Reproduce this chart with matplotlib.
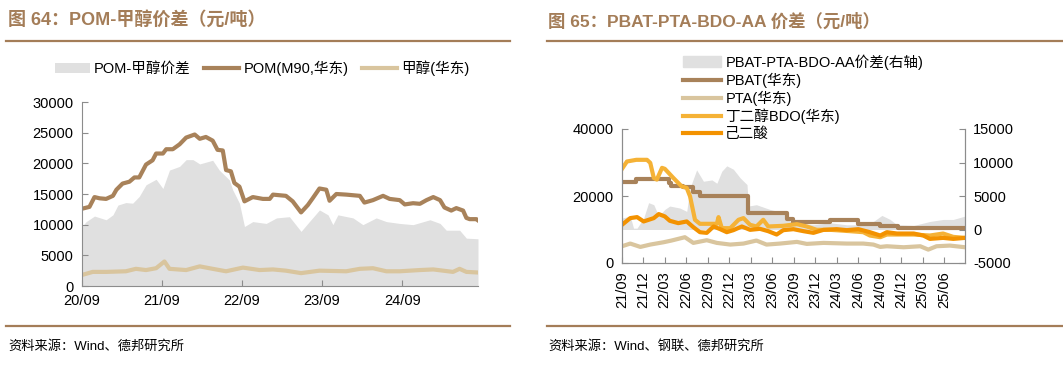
import pandas as pd
import matplotlib
matplotlib.use("Agg")
import matplotlib.pyplot as plt
import matplotlib.dates as mdates
from matplotlib.lines import Line2D

plt.rcParams['font.family'] = ['Liberation Sans', 'Noto Sans CJK SC', 'DejaVu Sans']
plt.rcParams['axes.unicode_minus'] = False

# 图64 data (元/吨, values in thousands)
pom_dates = ["2020-09-01", "2020-10-05", "2020-10-28", "2020-11-20", "2020-12-20", "2021-01-20",
             "2021-02-05", "2021-03-05", "2021-04-05", "2021-04-28", "2021-05-20", "2021-06-20",
             "2021-07-20", "2021-08-05", "2021-09-05", "2021-09-20", "2021-10-20", "2021-11-20",
             "2021-12-20", "2022-01-28", "2022-02-20", "2022-03-20", "2022-04-20", "2022-05-12",
             "2022-06-05", "2022-06-20", "2022-07-12", "2022-07-28", "2022-08-20", "2022-09-12",
             "2022-10-20", "2022-12-05", "2023-01-05", "2023-01-20", "2023-03-20", "2023-04-20",
             "2023-05-28", "2023-06-28", "2023-07-20", "2023-08-20", "2023-09-20", "2023-10-05",
             "2023-11-05", "2023-12-20", "2024-02-20", "2024-03-12", "2024-04-20", "2024-06-05",
             "2024-07-05", "2024-08-20", "2024-09-12", "2024-10-20", "2024-11-20", "2024-12-20",
             "2025-01-20", "2025-02-20", "2025-03-12", "2025-04-12", "2025-05-05", "2025-06-05",
             "2025-06-20", "2025-07-05", "2025-08-05", "2025-08-12"]
pom_vals = [12.6, 12.9, 14.5, 14.3, 14.2, 14.7, 15.7, 16.7, 17.0, 17.7, 17.7, 19.8,
            20.5, 21.6, 21.6, 22.3, 22.3, 23.1, 24.2, 24.7, 24.0, 24.3, 23.7, 22.2,
            22.1, 18.9, 18.7, 16.8, 16.2, 13.8, 14.5, 14.2, 14.2, 14.9, 14.7, 13.8,
            12.0, 13.2, 14.3, 15.9, 15.7, 13.9, 15.0, 14.9, 14.7, 13.6, 14.0, 14.7,
            14.2, 14.0, 13.3, 13.5, 13.4, 14.0, 14.5, 14.0, 12.8, 12.3, 12.7, 12.3,
            11.1, 10.9, 10.9, 10.7]

spread_dates = ["2020-09-01", "2020-09-20", "2020-10-28", "2020-12-20", "2021-01-20", "2021-02-12",
                "2021-03-20", "2021-04-20", "2021-05-20", "2021-06-20", "2021-08-05", "2021-09-05",
                "2021-10-05", "2021-11-20", "2021-12-20", "2022-01-20", "2022-02-20", "2022-04-20",
                "2022-05-20", "2022-07-05", "2022-07-20", "2022-08-20", "2022-09-12", "2022-10-20",
                "2022-12-20", "2023-02-05", "2023-04-05", "2023-05-28", "2023-07-05", "2023-08-20",
                "2023-09-28", "2023-10-20", "2023-11-12", "2024-01-20", "2024-03-05", "2024-05-05",
                "2024-06-20", "2024-08-20", "2024-10-20", "2025-01-05", "2025-02-20", "2025-03-20",
                "2025-05-20", "2025-06-20", "2025-08-12"]
spread_vals = [9.7, 10.5, 11.4, 10.8, 11.6, 13.2, 13.6, 13.5, 14.6, 16.5, 17.4, 15.9,
               18.9, 19.5, 20.6, 20.6, 19.9, 20.5, 18.9, 17.3, 15.7, 13.5, 9.7, 10.5,
               10.2, 11.1, 11.3, 8.9, 10.5, 12.4, 11.6, 10.0, 11.6, 11.1, 10.0, 11.1,
               10.5, 10.2, 10.0, 10.8, 10.2, 9.1, 9.1, 7.8, 7.7]

meoh_dates = ["2020-09-01", "2020-10-20", "2020-12-20", "2021-03-20", "2021-05-05", "2021-06-20",
              "2021-08-05", "2021-09-12", "2021-10-05", "2021-12-20", "2022-02-20", "2022-04-20",
              "2022-06-20", "2022-09-05", "2022-11-20", "2023-01-20", "2023-03-20", "2023-05-28",
              "2023-08-20", "2023-12-20", "2024-02-20", "2024-04-20", "2024-06-20", "2024-08-20",
              "2024-11-20", "2025-01-20", "2025-04-20", "2025-05-20", "2025-06-20", "2025-08-12"]
meoh_vals = [1.8, 2.3, 2.3, 2.4, 2.8, 2.6, 2.9, 4.0, 2.8, 2.6, 3.2, 2.8,
             2.4, 3.0, 2.6, 2.7, 2.5, 2.1, 2.5, 2.4, 2.8, 2.9, 2.4, 2.4,
             2.6, 2.7, 2.3, 2.8, 2.3, 2.2]

# 图65 data
pbat_dates = ["2021-09-01", "2021-11-01", "2022-03-20", "2022-03-30", "2022-05-19", "2022-07-01",
              "2022-07-29", "2023-02-20", "2023-08-01", "2023-08-30", "2024-02-03", "2024-06-01",
              "2024-09-01", "2024-11-15", "2025-08-28"]
pbat_vals = [24.1, 25.1, 24.0, 23.1, 22.6, 21.1, 20.1, 14.9, 13.1, 12.2, 12.8, 11.5,
             11.0, 10.4, 10.4]

pta_dates = ["2021-09-01", "2021-10-06", "2021-11-18", "2021-12-30", "2022-02-25", "2022-03-30",
             "2022-05-26", "2022-07-01", "2022-08-27", "2022-10-09", "2022-12-05", "2023-01-30",
             "2023-03-26", "2023-05-08", "2023-07-04", "2023-09-14", "2023-10-26", "2024-01-05",
             "2024-04-13", "2024-06-22", "2024-08-04", "2024-09-02", "2024-09-30", "2024-12-10",
             "2025-02-19", "2025-03-25", "2025-04-29", "2025-06-25", "2025-08-28"]
pta_vals = [5.0, 5.8, 4.8, 5.5, 6.2, 6.7, 7.7, 6.0, 6.8, 6.0, 5.5, 5.8,
            6.7, 5.5, 5.8, 6.3, 5.7, 6.0, 5.8, 5.8, 5.5, 4.8, 5.0, 4.7,
            5.0, 4.0, 5.0, 5.2, 4.7]

bdo_dates = ["2021-09-01", "2021-09-22", "2021-11-01", "2021-12-16", "2021-12-30", "2022-01-14",
             "2022-01-27", "2022-02-18", "2022-03-02", "2022-04-07", "2022-05-12", "2022-06-03",
             "2022-06-17", "2022-07-08", "2022-07-29", "2022-10-09", "2022-10-16", "2022-10-30",
             "2022-12-05", "2023-01-09", "2023-01-30", "2023-02-27", "2023-03-26", "2023-04-24",
             "2023-05-15", "2023-07-18", "2023-09-14", "2023-10-26", "2023-12-07", "2024-02-03",
             "2024-04-27", "2024-06-22", "2024-07-20", "2024-09-02", "2024-09-30", "2024-11-12",
             "2025-01-22", "2025-04-01", "2025-05-27", "2025-07-09", "2025-08-28"]
bdo_vals = [28.1, 30.3, 30.8, 30.8, 29.9, 25.4, 24.9, 28.4, 28.1, 25.4, 22.9, 22.4,
            19.9, 12.9, 11.7, 11.7, 13.7, 10.4, 10.4, 12.9, 13.4, 11.4, 10.9, 12.9,
            10.9, 11.1, 11.6, 10.9, 9.9, 9.9, 9.5, 9.2, 8.2, 7.7, 8.5, 8.5,
            8.5, 8.2, 8.8, 7.8, 7.5]

aa_dates = ["2021-09-01", "2021-10-06", "2021-11-04", "2021-12-02", "2022-01-14", "2022-02-04",
            "2022-03-02", "2022-03-23", "2022-04-28", "2022-06-03", "2022-07-01", "2022-07-29",
            "2022-08-27", "2022-09-25", "2022-10-23", "2022-11-20", "2022-12-18", "2023-01-23",
            "2023-02-27", "2023-04-10", "2023-05-15", "2023-06-20", "2023-07-18", "2023-08-30",
            "2023-10-12", "2023-11-23", "2024-01-05", "2024-03-01", "2024-04-13", "2024-06-01",
            "2024-07-20", "2024-09-02", "2024-09-30", "2024-11-12", "2025-01-22", "2025-03-04",
            "2025-04-01", "2025-05-27", "2025-07-09", "2025-08-28"]
aa_vals = [11.4, 13.4, 13.7, 12.4, 13.4, 14.6, 13.9, 12.6, 11.9, 12.4, 10.7, 9.2,
           9.0, 10.9, 10.1, 9.2, 9.8, 10.9, 9.9, 10.2, 9.5, 8.5, 9.8, 10.1,
           9.5, 9.0, 9.9, 10.1, 9.8, 10.1, 9.2, 8.2, 9.2, 8.8, 8.8, 8.2,
           7.2, 7.5, 7.2, 7.5]

pspread_dates = ["2021-09-01", "2021-10-06", "2021-10-20", "2021-11-04", "2021-12-02", "2021-12-23",
                 "2022-01-14", "2022-02-04", "2022-03-02", "2022-03-23", "2022-05-05", "2022-06-03",
                 "2022-06-17", "2022-07-15", "2022-08-13", "2022-09-18", "2022-10-09", "2022-10-30",
                 "2022-11-20", "2022-12-18", "2023-01-16", "2023-02-14", "2023-02-20", "2023-03-26",
                 "2023-05-22", "2023-07-18", "2023-08-16", "2023-09-14", "2023-11-23", "2024-02-03",
                 "2024-04-13", "2024-06-22", "2024-08-04", "2024-09-09", "2024-10-14", "2024-11-12",
                 "2025-01-22", "2025-04-01", "2025-05-27", "2025-07-09", "2025-08-28"]
pspread_vals = [1.7, 2.0, 0.2, 0.2, 1.7, 4.0, 3.7, 2.0, 3.0, 3.5, 3.2, 2.7,
                6.2, 8.9, 7.2, 7.4, 6.9, 8.7, 9.5, 9.0, 7.7, 6.7, 3.5, 3.7,
                3.0, 2.5, 1.2, 1.0, 0.7, 1.0, 0.7, 0.7, 1.2, 2.1, 1.5, 0.7,
                0.6, 1.2, 1.5, 1.5, 2.0]

brown = "#A8825A"
tan = "#D9C59E"
grey = "#E0E0E0"
bdo_c = "#F5B236"
aa_c = "#F39200"
title_c = "#A47D58"
spine_c = "#8C8C8C"

def d(x):
    return pd.to_datetime(x)

def k(v):
    return [x * 1000 for x in v]

fig = plt.figure(figsize=(10.63, 3.67), dpi=100)

# ---- 图64 ----
ax1 = fig.add_axes([82 / 1063, 81 / 367, 396 / 1063, 184 / 367])
ax1.fill_between(d(spread_dates), k(spread_vals), 0, color=grey, lw=0, label="POM-甲醇价差")
ax1.plot(d(pom_dates), k(pom_vals), color=brown, lw=3, label="POM(M90,华东)")
ax1.plot(d(meoh_dates), k(meoh_vals), color=tan, lw=3, label="甲醇(华东)")
ax1.set_ylim(0, 30000)
ax1.set_yticks(range(0, 30001, 5000))
ax1.set_xlim(d("2020-09-01"), d("2025-08-12"))
ax1.xaxis.set_major_locator(mdates.MonthLocator(bymonth=[9]))
ax1.xaxis.set_major_formatter(mdates.DateFormatter("%y/%m"))
for s in ["top", "right"]:
    ax1.spines[s].set_visible(False)
for s in ["left", "bottom"]:
    ax1.spines[s].set_color(spine_c)
ax1.tick_params(direction="in", length=4, color=spine_c, labelsize=10.5, pad=6)
ax1.legend(loc="center", bbox_to_anchor=(262 / 1063, 1 - 68 / 367), bbox_transform=fig.transFigure,
           ncol=3, frameon=False, fontsize=10.5, handlelength=2.4, handletextpad=0.3, columnspacing=0.9)

# ---- 图65 ----
ax2 = fig.add_axes([622 / 1063, 104 / 367, 343 / 1063, 134 / 367])
ax3 = ax2.twinx()
ax2.set_zorder(ax3.get_zorder() + 1)
ax2.patch.set_visible(False)
ax3.fill_between(d(pspread_dates), k(pspread_vals), 0, color=grey, lw=0)
ax2.plot(d(pbat_dates), k(pbat_vals), color=brown, lw=3, drawstyle="steps-post")
ax2.plot(d(pta_dates), k(pta_vals), color=tan, lw=3)
ax2.plot(d(bdo_dates), k(bdo_vals), color=bdo_c, lw=3)
ax2.plot(d(aa_dates), k(aa_vals), color=aa_c, lw=3)
ax2.set_ylim(0, 40000)
ax2.set_yticks([0, 20000, 40000])
ax3.set_ylim(-5000, 15000)
ax3.set_yticks([-5000, 0, 5000, 10000, 15000])
ax2.set_xlim(d("2021-09-01"), d("2025-08-28"))
ax2.xaxis.set_major_locator(mdates.MonthLocator(bymonth=[3, 6, 9, 12]))
ax2.xaxis.set_major_formatter(mdates.DateFormatter("%y/%m"))
for a in (ax2, ax3):
    a.spines["top"].set_visible(False)
    for s in ["left", "right", "bottom"]:
        a.spines[s].set_color(spine_c)
    a.tick_params(direction="in", length=4, color=spine_c, labelsize=10.5, pad=6)
ax2.tick_params(axis="x", labelrotation=90)

handles = [plt.Rectangle((0, 0), 1, 1, color=grey),
           Line2D([], [], color=brown, lw=3),
           Line2D([], [], color=tan, lw=3),
           Line2D([], [], color=bdo_c, lw=3),
           Line2D([], [], color=aa_c, lw=3)]
labels = ["PBAT-PTA-BDO-AA价差(右轴)", "PBAT(华东)", "PTA(华东)", "丁二醇BDO(华东)", "己二酸"]
fig.legend(handles, labels, loc="upper left", bbox_to_anchor=(670 / 1063, 1 - 41 / 367),
           frameon=False, fontsize=10.5, handlelength=2.6, handletextpad=0.3, labelspacing=0.2)

# titles, rules, sources
fig.text(8 / 1063, 1 - 21 / 367, "图 64：POM-甲醇价差（元/吨）", color=title_c, fontsize=13,
         fontweight="bold", va="center")
fig.text(548 / 1063, 1 - 21 / 367, "图 65：PBAT-PTA-BDO-AA 价差（元/吨）", color=title_c, fontsize=12.5,
         fontweight="bold", va="center")
for x0, x1 in [(6, 510), (547, 1063)]:
    for yy in (41, 326):
        fig.add_artist(Line2D([x0 / 1063, x1 / 1063], [1 - yy / 367, 1 - yy / 367],
                              color=title_c, lw=1.6))
fig.text(8 / 1063, 1 - 346 / 367, "资料来源：Wind、德邦研究所", fontsize=9.5, va="center")
fig.text(548 / 1063, 1 - 346 / 367, "资料来源：Wind、钢联、德邦研究所", fontsize=9.5, va="center")

fig.savefig("out.png", dpi=100)
